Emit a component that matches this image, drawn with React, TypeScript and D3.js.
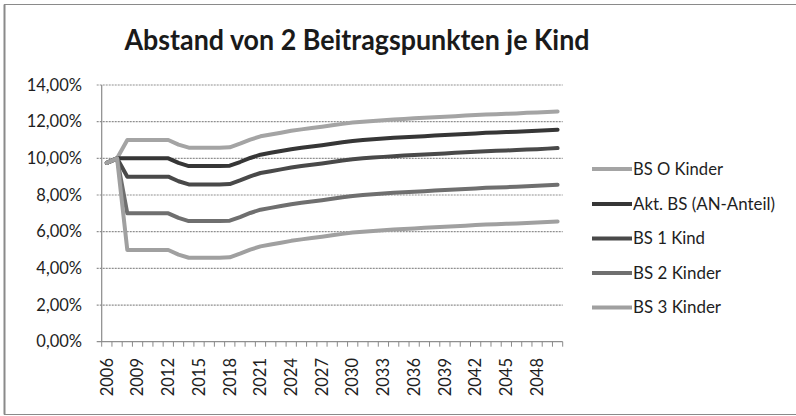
import React, { useEffect } from "react";
import * as d3 from "d3";

const years: number[] = [
  2006, 2007, 2008, 2009, 2010, 2011, 2012, 2013, 2014, 2015, 2016, 2017, 2018, 2019, 2020,
  2021, 2022, 2023, 2024, 2025, 2026, 2027, 2028, 2029, 2030, 2031, 2032, 2033, 2034, 2035,
  2036, 2037, 2038, 2039, 2040, 2041, 2042, 2043, 2044, 2045, 2046, 2047, 2048, 2049, 2050,
];

const bs0Kinder: number[] = [
  9.75, 10.0, 11.0, 11.0, 11.0, 11.0, 11.0, 10.75, 10.58, 10.58, 10.58, 10.58, 10.6, 10.8, 11.02,
  11.2, 11.3, 11.4, 11.5, 11.58, 11.65, 11.72, 11.8, 11.88, 11.95, 12.0, 12.04, 12.08, 12.12, 12.15,
  12.18, 12.21, 12.24, 12.27, 12.3, 12.33, 12.36, 12.39, 12.41, 12.43, 12.45, 12.48, 12.5, 12.53, 12.56,
];
const aktBS: number[] = [
  9.75, 10.0, 10.0, 10.0, 10.0, 10.0, 10.0, 9.75, 9.58, 9.58, 9.58, 9.58, 9.6, 9.8, 10.02,
  10.2, 10.3, 10.4, 10.5, 10.58, 10.65, 10.72, 10.8, 10.88, 10.95, 11.0, 11.04, 11.08, 11.12, 11.15,
  11.18, 11.21, 11.24, 11.27, 11.3, 11.33, 11.36, 11.39, 11.41, 11.43, 11.45, 11.48, 11.5, 11.53, 11.56,
];
const bs1Kind: number[] = [
  9.75, 10.0, 9.0, 9.0, 9.0, 9.0, 9.0, 8.75, 8.58, 8.58, 8.58, 8.58, 8.6, 8.8, 9.02,
  9.2, 9.3, 9.4, 9.5, 9.58, 9.65, 9.72, 9.8, 9.88, 9.95, 10.0, 10.04, 10.08, 10.12, 10.15,
  10.18, 10.21, 10.24, 10.27, 10.3, 10.33, 10.36, 10.39, 10.41, 10.43, 10.45, 10.48, 10.5, 10.53, 10.56,
];
const bs2Kinder: number[] = [
  9.75, 10.0, 7.0, 7.0, 7.0, 7.0, 7.0, 6.75, 6.58, 6.58, 6.58, 6.58, 6.6, 6.8, 7.02,
  7.2, 7.3, 7.4, 7.5, 7.58, 7.65, 7.72, 7.8, 7.88, 7.95, 8.0, 8.04, 8.08, 8.12, 8.15,
  8.18, 8.21, 8.24, 8.27, 8.3, 8.33, 8.36, 8.39, 8.41, 8.43, 8.45, 8.48, 8.5, 8.53, 8.56,
];
const bs3Kinder: number[] = [
  9.75, 10.0, 5.0, 5.0, 5.0, 5.0, 5.0, 4.75, 4.58, 4.58, 4.58, 4.58, 4.6, 4.8, 5.02,
  5.2, 5.3, 5.4, 5.5, 5.58, 5.65, 5.72, 5.8, 5.88, 5.95, 6.0, 6.04, 6.08, 6.12, 6.15,
  6.18, 6.21, 6.24, 6.27, 6.3, 6.33, 6.36, 6.39, 6.41, 6.43, 6.45, 6.48, 6.5, 6.53, 6.56,
];

const seriesNames: string[] = ["BS O Kinder", "Akt. BS (AN-Anteil)", "BS 1 Kind", "BS 2 Kinder", "BS 3 Kinder"];
const seriesColors: string[] = ["#a4a4a4", "#363636", "#494949", "#6f6f6f", "#a0a0a0"];
const yTicks: number[] = [0, 2, 4, 6, 8, 10, 12, 14];
const xLabelYears: number[] = [2006, 2009, 2012, 2015, 2018, 2021, 2024, 2027, 2030, 2033, 2036, 2039, 2042, 2045, 2048];
const title = "Abstand von 2 Beitragspunkten je Kind";

const FONT = "Lato, 'Open Sans', sans-serif";

export default function App() {
  useEffect(() => {
    document.body.style.margin = "0";
  }, []);

  const W = 796;
  const H = 416;
  const left = 101.7;
  const right = 562.7;
  const top = 85;
  const bottom = 341.7;

  const x = d3.scaleBand<number>().domain(years).range([left, right]).padding(0);
  const bw = x.bandwidth();
  const cx = (yr: number) => (x(yr) as number) + bw / 2;
  const y = d3.scaleLinear().domain([0, 14]).range([bottom, top]);

  const allSeries = [bs0Kinder, aktBS, bs1Kind, bs2Kinder, bs3Kinder];
  const line = d3
    .line<number>()
    .x((_, i) => cx(years[i]))
    .y((v) => y(v));

  const fmt = (v: number) => v.toFixed(2).replace(".", ",") + "%";

  const boundaries = d3.range(years.length + 1).map((i) => left + i * bw);

  const legendY: number[] = [169, 204, 238.5, 273, 307.5];
  const legendWidths: number[] = [90, 142, 72, 88, 88];

  return (
    <svg width={W} height={H} style={{ position: "absolute", left: 0, top: 0, background: "#fff" }}>
      <rect x={4.5} y={4.5} width={820} height={410} fill="#fff" stroke="#8a8a8a" strokeWidth={1} />
      <line x1={4.5} x2={4.5} y1={4.5} y2={414.5} stroke="#8a8a8a" strokeWidth={2} />
      <text
        x={357}
        y={50}
        textAnchor="middle"
        fontFamily={FONT}
        fontWeight="bold"
        fontSize={29}
        fill="#1a1a1a"
        textLength={465}
        lengthAdjust="spacingAndGlyphs"
      >
        {title}
      </text>

      {/* gridlines */}
      {yTicks.map((t) => (
        <line
          key={"g" + t}
          x1={left - 5}
          x2={right}
          y1={y(t)}
          y2={y(t)}
          stroke="#8f8f8f"
          strokeWidth={1.2}
          strokeDasharray={t === 0 ? undefined : "2,1"}
        />
      ))}
      {/* y axis */}
      <line x1={left} x2={left} y1={top} y2={bottom} stroke="#8a8a8a" strokeWidth={1.2} />
      {/* x ticks */}
      {boundaries.map((bx, i) => (
        <line key={"t" + i} x1={bx} x2={bx} y1={bottom} y2={bottom + 5} stroke="#8a8a8a" strokeWidth={1} />
      ))}
      {/* y labels */}
      {yTicks.map((t) => (
        <text
          key={"yl" + t}
          x={82}
          y={y(t)}
          dy="0.35em"
          textAnchor="end"
          fontFamily={FONT}
          fontSize={16.5}
          fill="#1e1e1e"
        >
          {fmt(t)}
        </text>
      ))}
      {/* x labels */}
      {xLabelYears.map((yr) => (
        <text
          key={"xl" + yr}
          transform={`translate(${cx(yr)},${358}) rotate(-90)`}
          dy="0.35em"
          textAnchor="end"
          fontFamily={FONT}
          fontSize={16.5}
          fill="#1e1e1e"
        >
          {yr}
        </text>
      ))}

      {/* lines */}
      {allSeries.map((s, i) => (
        <path
          key={"s" + i}
          d={line(s) || ""}
          fill="none"
          stroke={seriesColors[i]}
          strokeWidth={4}
          strokeLinejoin="round"
          strokeLinecap="round"
        />
      ))}

      {/* legend */}
      {seriesNames.map((n, i) => (
        <g key={"lg" + i}>
          <line x1={592} x2={632} y1={legendY[i]} y2={legendY[i]} stroke={seriesColors[i]} strokeWidth={4} />
          <text
            x={633}
            y={legendY[i]}
            dy="0.35em"
            fontFamily={FONT}
            fontSize={17}
            fill="#1e1e1e"
            textLength={legendWidths[i]}
            lengthAdjust="spacingAndGlyphs"
          >
            {n}
          </text>
        </g>
      ))}
    </svg>
  );
}
